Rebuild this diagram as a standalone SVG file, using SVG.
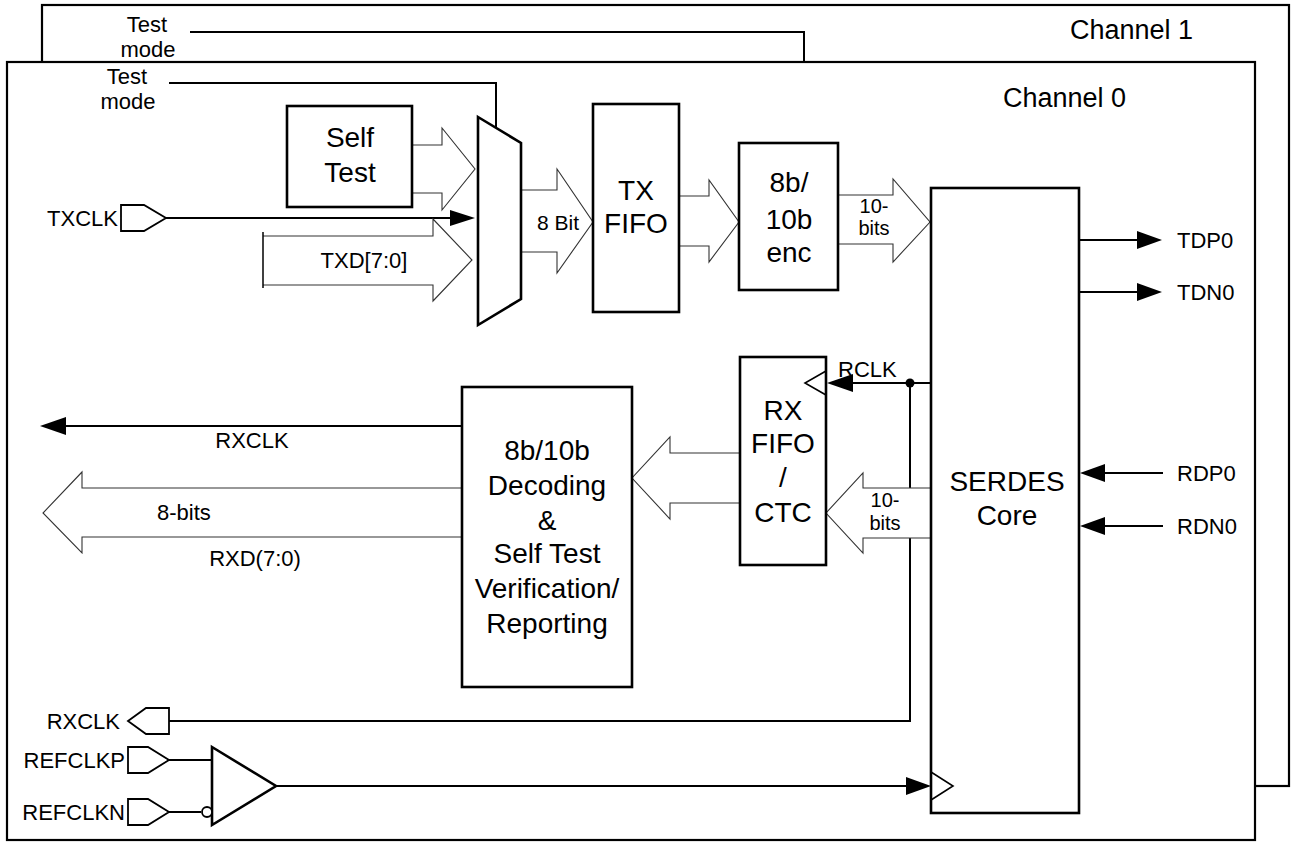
<svg xmlns="http://www.w3.org/2000/svg" width="1291" height="842" viewBox="0 0 1291 842">
<defs>
<style>
.ch{fill:#fff;stroke:#000;stroke-width:2.2}
.box{fill:#fff;stroke:#000;stroke-width:2.6}
.bus{fill:#fff;stroke:#333;stroke-width:1.1}
.sig{fill:none;stroke:#000;stroke-width:2}
.head{fill:#000;stroke:none}
.pin{fill:#fff;stroke:#000;stroke-width:1.8}
.clk{fill:none;stroke:#000;stroke-width:1.6}
text{font-family:"Liberation Sans",Arial,sans-serif;fill:#000}
.big{font-size:28px;text-anchor:middle}
.sm{font-size:22px}
.tiny{font-size:20px;text-anchor:middle}
.chl{font-size:27px}
.mid{text-anchor:middle}
.end{text-anchor:end}
</style>
</defs>
<rect width="1291" height="842" fill="#fff"/>
<g id="channel1">
<rect class="ch" x="42" y="5" width="1247" height="781"/>
<text class="chl" x="1070" y="39">Channel 1</text>
<text class="sm mid" x="147" y="32">Test</text>
<text class="sm mid" x="148" y="57">mode</text>
<path class="sig" d="M190,32 H804 V62"/>
</g>
<g id="channel0">
<rect class="ch" x="7" y="62" width="1248" height="778"/>
<text class="chl" x="1003" y="107">Channel 0</text>
<text class="sm mid" x="127" y="84">Test</text>
<text class="sm mid" x="128" y="109">mode</text>
</g>
<g id="connectors">
<path class="sig" d="M169,83 H496 V128"/>
<path class="bus" d="M412,145 H442 V128 L475,169 L442,210 V193 H412"/>
<path class="sig" d="M166,218 H452"/>
<polygon class="head" points="450,210 475,218 450,226"/>
<path class="bus" d="M263,236 H433 V219 L472,260 L433,301 V285 H263"/>
<path class="sig" d="M263,232 V288" style="stroke-width:1.5"/>
<path class="bus" d="M521,190 H557 V169 L593,222 L557,273 V252 H521"/>
<path class="bus" d="M679,196 H709 V180 L739,222 L709,262 V246 H679"/>
<path class="bus" d="M838,195 H893 V179 L930,222 L893,262 V244 H838"/>
<path class="sig" d="M1079,240 H1140"/>
<polygon class="head" points="1137,231 1162,240 1137,249"/>
<path class="sig" d="M1079,292 H1140"/>
<polygon class="head" points="1137,283 1162,292 1137,301"/>
<path class="sig" d="M1163,473 H1102"/>
<polygon class="head" points="1105,464 1080,473 1105,482"/>
<path class="sig" d="M1163,526 H1102"/>
<polygon class="head" points="1105,517 1080,526 1105,535"/>
<path class="sig" d="M931,383 H850"/>
<polygon class="head" points="853,374 827,383 853,392"/>
<circle cx="910" cy="383" r="4.5" fill="#000"/>
<path class="sig" d="M910,383 V721 H169"/>
<path class="bus" d="M930,488 H863 V473 L826,513 L863,553 V538 H930"/>
<path class="bus" d="M740,453 H670 V437 L632,478 L670,519 V503 H740"/>
<path class="sig" d="M462,426 H64"/>
<polygon class="head" points="66,417 40,426 66,435"/>
<path class="bus" d="M462,488 H82 V472 L43,513 L82,553 V537 H462"/>
<path class="sig" d="M169,760 H212"/>
<path class="sig" d="M169,812 H201"/>
<path class="sig" d="M276,786 H908"/>
<polygon class="head" points="906,777 931,786 906,795"/>
</g>
<g id="labels">
<text class="sm mid" x="558" y="230" style="font-size:21px">8 Bit</text>
<text class="sm mid" x="364" y="268">TXD[7:0]</text>
<text class="tiny" x="874" y="213">10-</text>
<text class="tiny" x="874" y="235">bits</text>
<text class="sm" x="1177" y="248">TDP0</text>
<text class="sm" x="1177" y="300">TDN0</text>
<text class="sm" x="1177" y="481">RDP0</text>
<text class="sm" x="1177" y="534">RDN0</text>
<text class="sm" x="838" y="377">RCLK</text>
<text class="tiny" x="885" y="507">10-</text>
<text class="tiny" x="885" y="530">bits</text>
<text class="sm mid" x="252" y="448">RXCLK</text>
<text class="sm" x="157" y="520">8-bits</text>
<text class="sm mid" x="255" y="566">RXD(7:0)</text>
</g>
<g id="selftest">
<rect class="box" x="287" y="106" width="125" height="101"/>
<text class="big" x="350" y="147">Self</text>
<text class="big" x="350" y="182">Test</text>
</g>
<g id="mux">
<polygon class="box" points="478,117 521,143 521,299 478,325"/>
</g>
<g id="txfifo">
<rect class="box" x="593" y="104" width="86" height="208"/>
<text class="big" x="636" y="200">TX</text>
<text class="big" x="636" y="233">FIFO</text>
</g>
<g id="enc">
<rect class="box" x="739" y="143" width="99" height="147"/>
<text class="big" x="789" y="192">8b/</text>
<text class="big" x="789" y="229">10b</text>
<text class="big" x="789" y="262">enc</text>
</g>
<g id="serdes">
<rect class="box" x="931" y="188" width="148" height="625"/>
<text class="big" x="1007" y="491">SERDES</text>
<text class="big" x="1007" y="525">Core</text>
<polyline class="clk" points="931,772 953,786 931,800"/>
</g>
<g id="rxfifo">
<rect class="box" x="740" y="357" width="86" height="208"/>
<polyline class="clk" points="826,371 805,383 826,395"/>
<text class="big" x="783" y="420">RX</text>
<text class="big" x="783" y="453">FIFO</text>
<text class="big" x="783" y="487">/</text>
<text class="big" x="783" y="522">CTC</text>
</g>
<g id="decoder">
<rect class="box" x="462" y="387" width="170" height="300"/>
<text class="big" x="547" y="460">8b/10b</text>
<text class="big" x="547" y="495">Decoding</text>
<text class="big" x="547" y="530">&amp;</text>
<text class="big" x="547" y="563">Self Test</text>
<text class="big" x="547" y="598">Verification/</text>
<text class="big" x="547" y="633">Reporting</text>
</g>
<g id="txclk-pin">
<polygon class="pin" points="121,205 144,205 166,218 144,231 121,231"/>
<text class="sm end" x="118" y="226">TXCLK</text>
</g>
<g id="rxclk-pin">
<polygon class="pin" points="128,721 146,708 169,708 169,734 146,734"/>
<text class="sm end" x="120" y="729">RXCLK</text>
</g>
<g id="refclkp-pin">
<polygon class="pin" points="128,747 148,747 169,760 148,773 128,773"/>
<text class="sm end" x="125" y="768">REFCLKP</text>
</g>
<g id="refclkn-pin">
<polygon class="pin" points="128,799 148,799 169,812 148,825 128,825"/>
<text class="sm end" x="125" y="820">REFCLKN</text>
</g>
<g id="refbuf">
<polygon class="box" points="212,747 276,786 212,825"/>
<circle cx="207" cy="812" r="5" fill="#fff" stroke="#000" stroke-width="1.8"/>
</g>
</svg>
